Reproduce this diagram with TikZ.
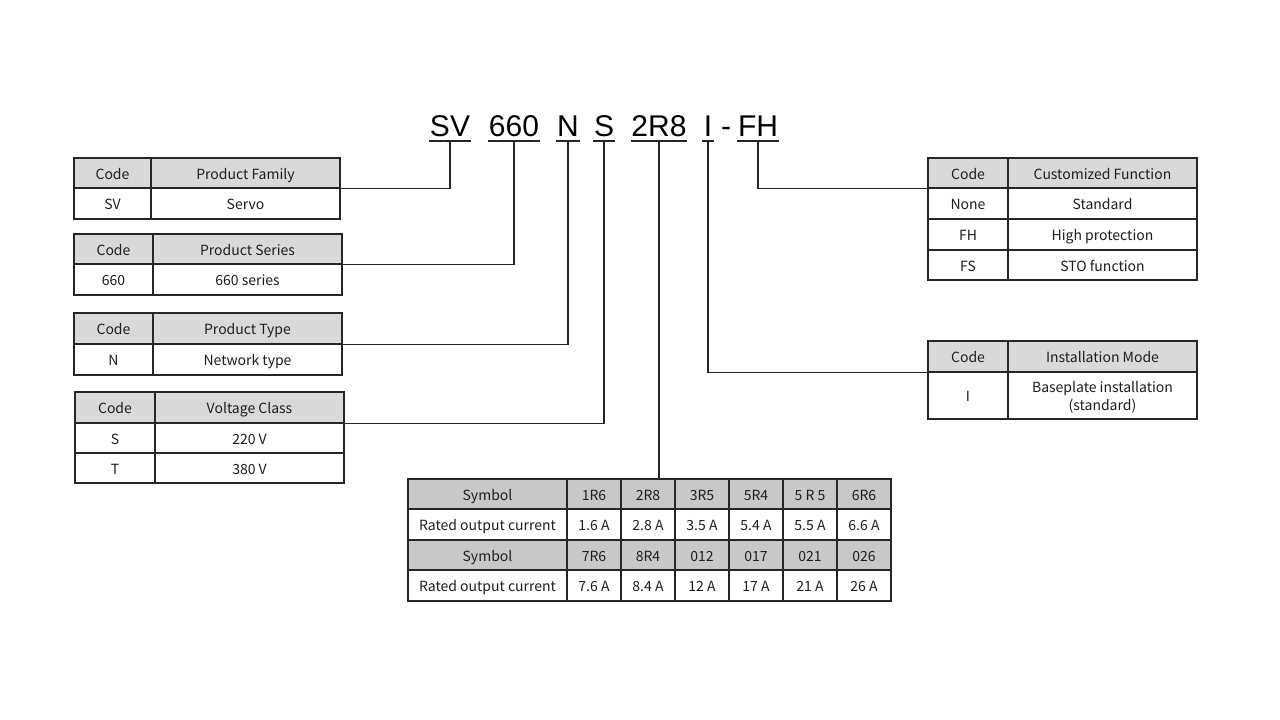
\documentclass[tikz,border=0pt]{standalone}
\usepackage{fontspec}
\setmainfont{Noto Sans CJK SC}
\newfontfamily\titlefont{Liberation Sans}
\definecolor{hdr}{HTML}{D9D9D9}
\definecolor{hdrb}{HTML}{C8C8C8}
\definecolor{ln}{HTML}{262626}
\definecolor{txt}{HTML}{1E1E1E}
\tikzset{
  cellbox/.style={draw=ln,line width=1.3pt,inner sep=0pt,text=txt,
    font=\fontsize{14}{18}\selectfont,align=center,text height=12.5pt,text depth=0.5pt},
  tok/.style={inner xsep=0.5pt,inner ysep=4.5pt,text depth=0pt,anchor=south,
    font=\titlefont\fontsize{30}{32}\selectfont,text=black},
  conn/.style={draw=ln,line width=1.3pt}
}
\newcommand\cel[7]{\node[cellbox,fill=#6,minimum width={#4pt-#2pt},minimum height={#5pt-#3pt}] (#1) at ({(#2+#4)/2},{(#3+#5)/2}) {#7};}
\begin{document}
\begin{tikzpicture}[x=1pt,y=-1pt]
\useasboundingbox[fill=white] (0,0) rectangle (1280,720);
% title tokens
\node[tok] (tsv) at (450,141) {SV};
\node[tok] (t660) at (514,141) {660};
\node[tok] (tn) at (568,141) {N};
\node[tok] (ts) at (604,141) {S};
\node[tok] (t2r8) at (659,141) {2R8};
\node[tok,minimum width=12pt] (ti) at (708,141) {I};
\node[tok] (tdash) at (726,141) {-};
\node[tok] (tfh) at (758,141) {FH};
\foreach \t in {tsv,t660,tn,ts,t2r8,ti,tfh} \draw[conn] (\t.south west) -- (\t.south east);
% Product family
\cel{pf11}{74}{158}{151}{188}{hdr}{Code}
\cel{pf12}{151}{158}{340}{188}{hdr}{Product Family}
\cel{pf21}{74}{188}{151}{219}{white}{SV}
\cel{pf22}{151}{188}{340}{219}{white}{Servo}
% Product series
\cel{ps11}{74}{234}{153}{264}{hdr}{Code}
\cel{ps12}{153}{234}{342}{264}{hdr}{Product Series}
\cel{ps21}{74}{264}{153}{295}{white}{660}
\cel{ps22}{153}{264}{342}{295}{white}{660 series}
% Product type
\cel{pt11}{74}{313}{153}{344}{hdr}{Code}
\cel{pt12}{153}{313}{342}{344}{hdr}{Product Type}
\cel{pt21}{74}{344}{153}{375}{white}{N}
\cel{pt22}{153}{344}{342}{375}{white}{Network type}
% Voltage class
\cel{vc11}{75}{392}{155}{423}{hdr}{Code}
\cel{vc12}{155}{392}{344}{423}{hdr}{Voltage Class}
\cel{vc21}{75}{423}{155}{453}{white}{S}
\cel{vc22}{155}{423}{344}{453}{white}{220 V}
\cel{vc31}{75}{453}{155}{483}{white}{T}
\cel{vc32}{155}{453}{344}{483}{white}{380 V}
% Customized function
\cel{cf11}{928}{158}{1008}{188}{hdr}{Code}
\cel{cf12}{1008}{158}{1197}{188}{hdr}{Customized Function}
\cel{cf21}{928}{188}{1008}{219}{white}{None}
\cel{cf22}{1008}{188}{1197}{219}{white}{Standard}
\cel{cf31}{928}{219}{1008}{250}{white}{FH}
\cel{cf32}{1008}{219}{1197}{250}{white}{High protection}
\cel{cf41}{928}{250}{1008}{280}{white}{FS}
\cel{cf42}{1008}{250}{1197}{280}{white}{STO function}
% Installation mode
\cel{im11}{928}{341}{1008}{372}{hdr}{Code}
\cel{im12}{1008}{341}{1197}{372}{hdr}{Installation Mode}
\cel{im21}{928}{372}{1008}{419}{white}{I}
\cel{im22}{1008}{372}{1197}{419}{white}{\begin{tabular}{@{}c@{}}Baseplate installation\\(standard)\end{tabular}}
% Bottom table
\cel{b11}{408}{479}{567}{509}{hdrb}{Symbol}
\cel{b12}{567}{479}{621}{509}{hdrb}{1R6}
\cel{b13}{621}{479}{675}{509}{hdrb}{2R8}
\cel{b14}{675}{479}{729}{509}{hdrb}{3R5}
\cel{b15}{729}{479}{783}{509}{hdrb}{5R4}
\cel{b16}{783}{479}{837}{509}{hdrb}{5 R 5}
\cel{b17}{837}{479}{891}{509}{hdrb}{6R6}
\cel{b21}{408}{509}{567}{540}{white}{Rated output current}
\cel{b22}{567}{509}{621}{540}{white}{1.6 A}
\cel{b23}{621}{509}{675}{540}{white}{2.8 A}
\cel{b24}{675}{509}{729}{540}{white}{3.5 A}
\cel{b25}{729}{509}{783}{540}{white}{5.4 A}
\cel{b26}{783}{509}{837}{540}{white}{5.5 A}
\cel{b27}{837}{509}{891}{540}{white}{6.6 A}
\cel{b31}{408}{540}{567}{570}{hdrb}{Symbol}
\cel{b32}{567}{540}{621}{570}{hdrb}{7R6}
\cel{b33}{621}{540}{675}{570}{hdrb}{8R4}
\cel{b34}{675}{540}{729}{570}{hdrb}{012}
\cel{b35}{729}{540}{783}{570}{hdrb}{017}
\cel{b36}{783}{540}{837}{570}{hdrb}{021}
\cel{b37}{837}{540}{891}{570}{hdrb}{026}
\cel{b41}{408}{570}{567}{601}{white}{Rated output current}
\cel{b42}{567}{570}{621}{601}{white}{7.6 A}
\cel{b43}{621}{570}{675}{601}{white}{8.4 A}
\cel{b44}{675}{570}{729}{601}{white}{12 A}
\cel{b45}{729}{570}{783}{601}{white}{17 A}
\cel{b46}{783}{570}{837}{601}{white}{21 A}
\cel{b47}{837}{570}{891}{601}{white}{26 A}
% connectors
\draw[conn] (pf12.south east) -| (tsv.south);
\draw[conn] (ps12.south east) -| (t660.south);
\draw[conn] (pt12.south east) -| (tn.south);
\draw[conn] (vc12.south east) -| (ts.south);
\draw[conn] (t2r8.south) -- (t2r8.south |- b13.north);
\draw[conn] (ti.south) |- (im11.south west);
\draw[conn] (tfh.south) |- (cf11.south west);
\end{tikzpicture}
\end{document}
